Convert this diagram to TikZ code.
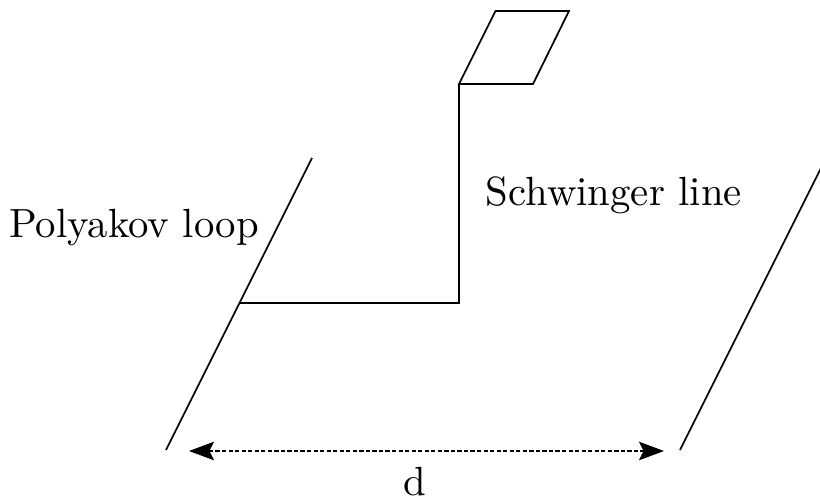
\documentclass[tikz,border=0pt]{standalone}
\usetikzlibrary{arrows.meta}
\begin{document}
\begin{tikzpicture}[x=0.26pt,y=-0.26pt,
  ln/.style={line width=0.45pt, line join=miter},
  lbl/.style={inner sep=0pt, font=\fontsize{10.6}{13}\selectfont},
  darrow/.style={line width=0.4pt, dash pattern=on 1.1pt off 0.6pt, {Stealth[length=6.5pt,width=4.8pt,inset=1.2pt]}-{Stealth[length=6.5pt,width=4.8pt,inset=1.2pt]}}]
\useasboundingbox (0,0) rectangle (820,501);
% left Polyakov loop
\coordinate (L1) at (166,450);
\coordinate (L2) at (312,158);
\coordinate (J) at (239.5,303);
\coordinate (C) at (459,303);
\coordinate (T) at (459,84);
\coordinate (P2) at (533,84);
\coordinate (P3) at (569,11);
\coordinate (P4) at (495.5,11);
% right Polyakov loop
\coordinate (R1) at (680,450);
\coordinate (R2) at (821,168);
% arrow ends
\coordinate (A1) at (189,451);
\coordinate (A2) at (664,451);
\draw[ln] (L1) -- (L2);
\draw[ln] (R1) -- (R2);
\draw[ln] (J) -- (C) -- (T);
\draw[ln] (T) -- (P2) -- (P3) -- (P4) -- cycle;
\draw[darrow] (A1) -- (A2);
\node[lbl] (pl) at (134,228) {Polyakov loop};
\node[lbl] (sl) at (614,195) {Schwinger line};
\node[lbl] (d) at (415,482) {d};
\end{tikzpicture}
\end{document}
